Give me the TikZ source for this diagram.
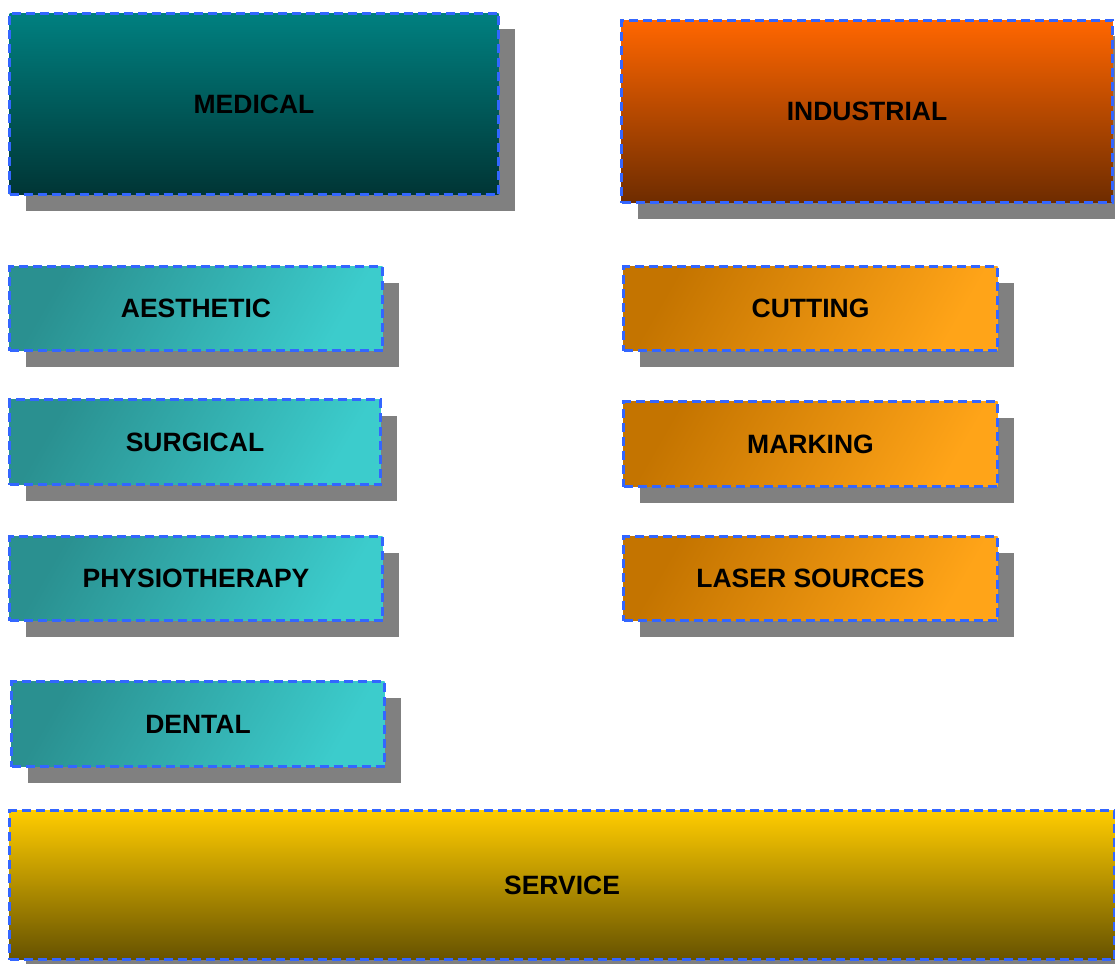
\documentclass[tikz,border=0pt]{standalone}
\usepackage{fontspec}
\setmainfont{Liberation Sans}
\usetikzlibrary{shadows}
\definecolor{medtop}{HTML}{008080}
\definecolor{medbot}{HTML}{003535}
\definecolor{indtop}{HTML}{FF6600}
\definecolor{indbot}{HTML}{6E2C00}
\definecolor{cyl}{HTML}{2A9090}
\definecolor{cyr}{HTML}{3CCCCC}
\definecolor{orl}{HTML}{C47400}
\definecolor{orr}{HTML}{FFA418}
\definecolor{svtop}{HTML}{FFCC00}
\definecolor{svbot}{HTML}{665200}
\definecolor{dashblue}{HTML}{3366FF}
\definecolor{shadowgray}{HTML}{808080}
\tikzset{
  box/.style={rectangle, anchor=north west, draw=dashblue, line width=3pt,
    dash pattern=on 9pt off 5pt, inner sep=0pt, align=center,
    font=\fontsize{26.5}{30}\selectfont\bfseries, text=black,
    drop shadow={shadow xshift=16pt, shadow yshift=-16pt, opacity=1, fill=shadowgray}},
  vgrad/.style 2 args={top color=#1, bottom color=#2},
  medbox/.style={box, vgrad={medtop}{medbot}},
  indbox/.style={box, vgrad={indtop}{indbot}},
  cybox/.style={box, left color=cyl, right color=cyr, shading angle=60},
  orbox/.style={box, left color=orl, right color=orr, shading angle=60},
  svbox/.style={box, vgrad={svtop}{svbot}},
}
\begin{document}
\begin{tikzpicture}[x=1pt,y=-1pt]
\useasboundingbox (0,0) rectangle (1115,963);
\node[medbox, minimum width=489pt, minimum height=181pt] (medical) at (8,12) {MEDICAL};
\node[indbox, minimum width=491pt, minimum height=182pt] (industrial) at (620,19) {INDUSTRIAL};
\node[cybox, minimum width=373pt, minimum height=84pt] (aesthetic) at (8,265) {AESTHETIC};
\node[cybox, minimum width=371pt, minimum height=85pt] (surgical) at (8,398) {SURGICAL};
\node[cybox, minimum width=373pt, minimum height=84pt] (physio) at (8,535) {PHYSIOTHERAPY};
\node[cybox, minimum width=373pt, minimum height=85pt] (dental) at (10,680) {DENTAL};
\node[orbox, minimum width=374pt, minimum height=84pt] (cutting) at (622,265) {CUTTING};
\node[orbox, minimum width=374pt, minimum height=85pt] (marking) at (622,400) {MARKING};
\node[orbox, minimum width=374pt, minimum height=84pt] (laser) at (622,535) {LASER SOURCES};
\node[svbox, minimum width=1105pt, minimum height=149pt] (service) at (8,809) {SERVICE};
\end{tikzpicture}
\end{document}
